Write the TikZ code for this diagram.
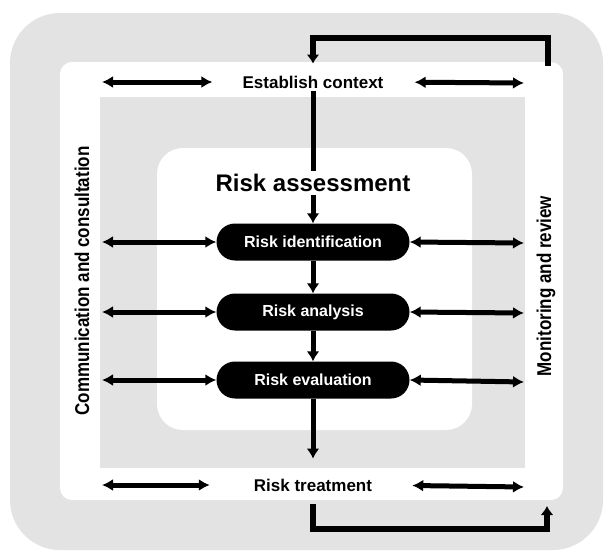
\documentclass[tikz,border=0pt]{standalone}
\usepackage{fontspec}
\setmainfont{Liberation Sans}
\newfontfamily\condfont[FakeStretch=0.85]{Liberation Sans}
\usetikzlibrary{arrows.meta,shapes.misc}
\tikzset{
  stip/.style={fill=black!11},
  pill/.style={rounded rectangle, fill=black, text=white, minimum width=197pt, minimum height=37pt, inner sep=2pt, font=\fontsize{16}{18}\selectfont\bfseries},
  midlabel/.style={inner sep=3pt, font=\fontsize{17}{20}\selectfont\bfseries},
  sidelabel/.style={rotate=90, inner sep=2pt, font=\condfont\fontsize{20}{24}\selectfont\bfseries},
  dbl/.style={{Latex[length=11pt,width=12pt]}-{Latex[length=11pt,width=12pt]}, line width=5pt},
  flow/.style={-{Latex[length=10pt,width=13pt]}, line width=5pt},
  loopline/.style={line width=6pt}
}
\begin{document}
\begin{tikzpicture}[x=1pt,y=-1pt]
\useasboundingbox (0,0) rectangle (607,554);
% background bands
\fill[stip, rounded corners=50pt] (10,13) rectangle (603,550);
\fill[white, rounded corners=12pt] (60,62) rectangle (563,500);
\fill[stip] (100,97) rectangle (525,468);
\fill[white, rounded corners=26pt] (157,148) rectangle (472,430);

% nodes
\node[midlabel] (est) at (313,82) {Establish context};
\node[inner sep=3pt, font=\fontsize{24}{28}\selectfont\bfseries] (ra) at (313,183) {Risk assessment};
\node[pill] (ident) at (313,242) {Risk identification};
\node[pill] (anal) at (313,312) {Risk analysis};
\node[pill] (eval) at (313,380) {Risk evaluation};
\node[midlabel] (treat) at (313,485) {Risk treatment};
\node[sidelabel] (comm) at (82,281) {Communication and consultation};
\node[sidelabel] (mon) at (546,286) {Monitoring and review};

% coordinates for free ends
\coordinate (l0) at (102,82);
\coordinate (l1) at (102,242);
\coordinate (l2) at (102,312);
\coordinate (l3) at (102,380);
\coordinate (l4) at (102,485);
\coordinate (r0) at (524,83);
\coordinate (r1) at (524,243);
\coordinate (r2) at (524,313);
\coordinate (r3) at (524,382);
\coordinate (r4) at (524,487);
\coordinate (mtop) at (548,66);
\coordinate (tr) at (548,38);
\coordinate (tl) at (313,38);
\coordinate (bl) at (313,529);
\coordinate (br) at (547,529);
\coordinate (mbot) at (547,506);

% double arrows
\draw[dbl, shorten >=27pt] (l0) -- (est.west);
\draw[dbl, shorten <=28pt] (est.east) -- (r0);
\draw[dbl] (l1) -- (ident.west);
\draw[dbl] (ident.east) -- (r1);
\draw[dbl] (l2) -- (anal.west);
\draw[dbl] (anal.east) -- (r2);
\draw[dbl] (l3) -- (eval.west);
\draw[dbl] (eval.east) -- (r3);
\draw[dbl, shorten >=41pt] (l4) -- (treat.west);
\draw[dbl, shorten <=37pt] (treat.east) -- (r4);

% process flow
\draw[line width=5pt] (est.south) -- (ra.north);
\draw[flow] (ra.south) -- (ident.north);
\draw[flow] (ident.south) -- (anal.north);
\draw[flow] (anal.south) -- (eval.north);
\draw[flow, shorten >=17pt] (eval.south) -- (treat.north);

% feedback loops
\draw[loopline, -{Latex[length=9pt,width=13pt]}, shorten >=9pt] (mtop) -- (tr) -- (tl) -- (est.north);
\draw[loopline, -{Latex[length=9pt,width=13pt]}, shorten <=10pt] (treat.south) -- (bl) -- (br) -- (mbot);
\end{tikzpicture}
\end{document}
